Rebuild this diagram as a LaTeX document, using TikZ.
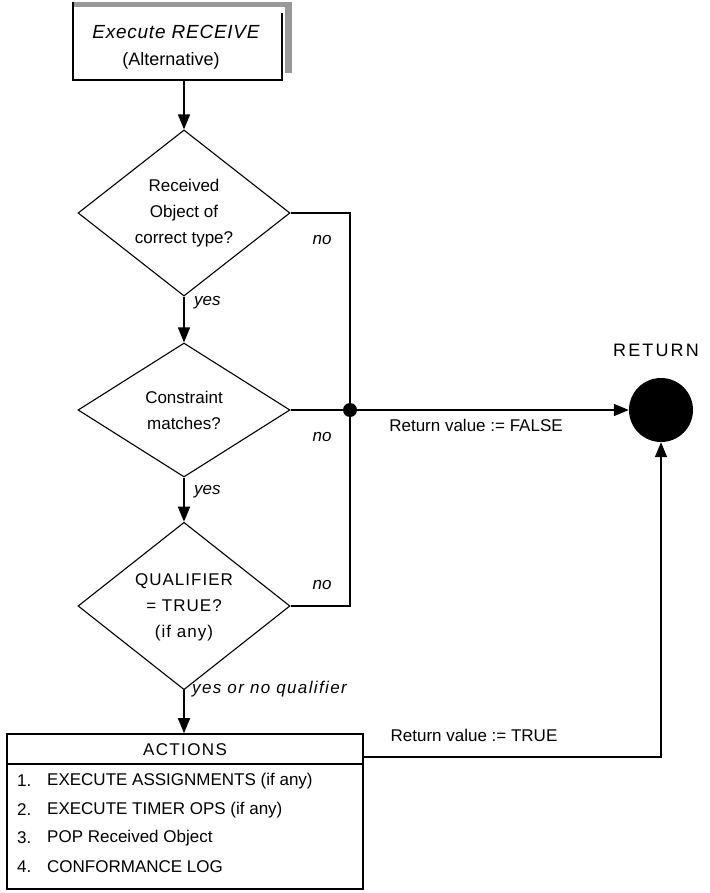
\documentclass[tikz,border=0pt]{standalone}
\usepackage{fontspec}
\setmainfont{Liberation Sans}
\usetikzlibrary{shapes.geometric,arrows.meta,calc}
\begin{document}
\begin{tikzpicture}[x=1pt,y=-1pt,
  txt/.style={font=\fontsize{17}{25}\selectfont, inner sep=0pt},
  lbl/.style={font=\fontsize{17}{20}\selectfont\itshape, inner sep=0pt},
  decision/.style={diamond, draw, line width=1.1pt, minimum width=212pt, minimum height=134pt,
     inner sep=0pt, align=center, font=\fontsize{17}{26}\selectfont},
  conn/.style={line width=1.6pt},
  arr/.style={conn, -{Triangle[length=15pt,width=12pt]}}]
\useasboundingbox (0,0) rectangle (709,893);
% top box with stippled shadow on top and right
\node[minimum width=209pt, minimum height=78pt, inner sep=0pt] (top) at (177.5,41) {};
\fill[black!40] (top.north west) rectangle ($(top.north east)+(10,5)$);
\fill[black!40] ($(top.north east)+(3,0)$) rectangle ($(top.south east)+(10,-7)$);
\draw[line width=1.6pt] (top.north west) -- (top.south west) -- (top.south east) -- ($(top.north east)+(0,11)$);
\node[txt, font=\fontsize{19}{30}\selectfont\itshape\addfontfeatures{LetterSpace=4}] (t1) at (176,32) {Execute RECEIVE};
\node[txt, font=\fontsize{18}{30}\selectfont] (t2) at (171,61) {(Alternative)};
% decisions
\node[decision] (d1) at (184,213) {Received\\Object of\\correct type?};
\node[decision] (d2) at (184,410) {Constraint\\matches?};
\node[decision, minimum height=136pt, font=\fontsize{17}{26}\selectfont\addfontfeatures{LetterSpace=6}] (d3) at (184,606) {\\[-12pt]QUALIFIER\\= TRUE?\\(if any)};
% junction and return
\coordinate (J) at (350,410);
\node[circle, fill=black, minimum size=64pt, inner sep=0pt] (ret) at (661,410) {};
\node[txt, font=\fontsize{18}{25}\selectfont\addfontfeatures{LetterSpace=12}] (retl) at (656,350) {RETURN};
% actions box
\node[draw, line width=1.6pt, minimum width=356pt, minimum height=155pt, inner sep=0pt] (act) at (185,811.5) {};
\draw[line width=1.6pt] (act.north west) ++(0,31) coordinate (s1) -- (s1 -| act.east);
\node[txt, font=\fontsize{17}{25}\selectfont\addfontfeatures{LetterSpace=8}] (ah) at (185,750) {ACTIONS};
\node[txt, anchor=west] (n1) at (17,781) {1.};
\node[txt, anchor=west] (i1) at (47,781) {EXECUTE ASSIGNMENTS (if any)};
\node[txt, anchor=west] (n2) at (17,810) {2.};
\node[txt, anchor=west] (i2) at (47,810) {EXECUTE TIMER OPS (if any)};
\node[txt, anchor=west] (n3) at (17,838) {3.};
\node[txt, anchor=west] (i3) at (47,838) {POP Received Object};
\node[txt, anchor=west] (n4) at (17,867) {4.};
\node[txt, anchor=west] (i4) at (47,867) {CONFORMANCE LOG};
% connectors
\draw[arr] (top.south -| d1.north) -- (d1.north);
\draw[arr] (d1.south) -- (d2.north);
\draw[arr] (d2.south) -- (d3.north);
\draw[arr] (d3.south) -- (d3.south |- act.north);
\draw[conn] (d1.east) -| (J);
\draw[conn] (d3.east) -| (J);
\draw[conn] (d2.east) -- (J);
\draw[arr] (J) -- (ret.west);
\fill (J) circle (7pt);
\coordinate (ae) at (act.east |- 0,757);
\draw[arr] (ae) -| (ret.south);
% labels
\node[lbl] (no1) at (322,240) {no};
\node[lbl] (no2) at (322,437) {no};
\node[lbl] (no3) at (322,585) {no};
\node[lbl, anchor=west] (y1) at (194,303) {yes};
\node[lbl, anchor=west] (y2) at (194,492) {yes};
\node[lbl, anchor=west, font=\fontsize{17}{20}\selectfont\itshape\addfontfeatures{LetterSpace=8}] (y3) at (192,689) {yes or no qualifier};
\node[txt] (rf) at (476,425) {Return value := FALSE};
\node[txt] (rt) at (474,735) {Return value := TRUE};
\end{tikzpicture}
\end{document}
